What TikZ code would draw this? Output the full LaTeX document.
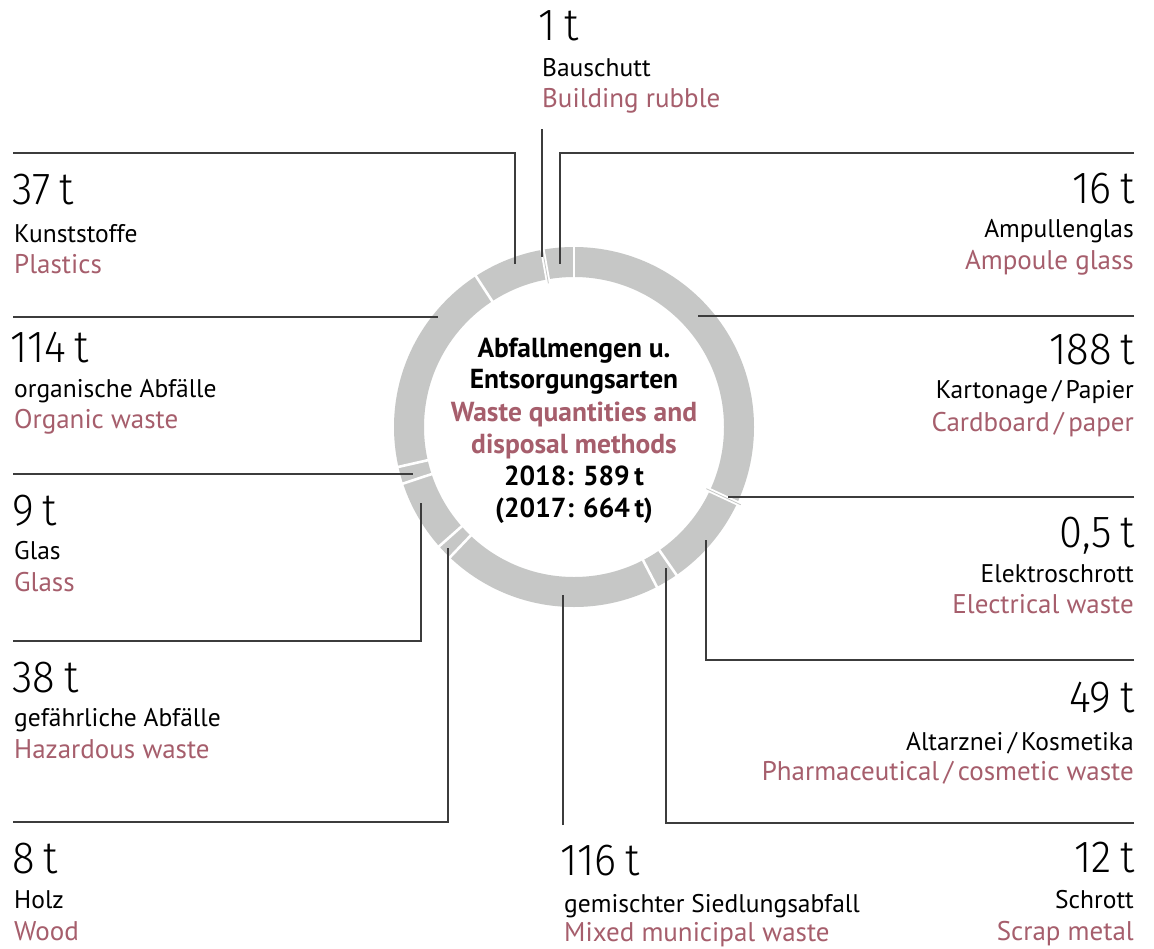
\documentclass[tikz,border=0pt]{standalone}
\usepackage{fontspec}
\setmainfont{PT Sans}
\newfontfamily\numfont{Fira Sans}[UprightFont={* Light}, Numbers=Proportional, FakeStretch=0.93]
\definecolor{rose}{HTML}{A65E6C}
\definecolor{ringgray}{HTML}{C6C7C6}
\definecolor{linegray}{HTML}{3C3C3C}
\tikzset{
  num/.style={inner sep=0pt, text=black, font=\numfont\fontsize{45}{45}\selectfont},
  de/.style={inner sep=0pt, text=black, font=\fontsize{25.5}{25.5}\selectfont},
  en/.style={inner sep=0pt, text=rose, font=\fontsize{27}{27}\selectfont},
  ctr/.style={inner sep=0pt, anchor=base, font=\fontsize{27.5}{27.5}\selectfont\bfseries},
  lft/.style={anchor=base west},
  rgt/.style={anchor=base east},
  conn/.style={draw=linegray, line width=1.1pt},
  gapline/.style={draw=white, line width=2.6pt},
  widegap/.style={draw=white, line width=4.5pt},
  sliver/.style={draw=ringgray, line width=0.8pt},
}
\newcommand{\gapat}[2]{\draw[#1] ([shift={(#2:146pt)}]c) -- ([shift={(#2:184pt)}]c);}
\newcommand{\tn}{\hspace{0.2em}t}
\begin{document}
\begin{tikzpicture}[x=1pt,y=-1pt]
\useasboundingbox[fill=white] (0,0) rectangle (1154,948);
\coordinate (c) at (574,427);
% ring
\fill[ringgray, even odd rule] (c) circle[radius=180pt] (c) circle[radius=150pt];
\foreach \a in {90,-55.3,-62.6,-133.6,-138.5,-161.7,-167.2,-236.97}{\gapat{gapline}{\a}}
\gapat{widegap}{-25.0}
\gapat{sliver}{-25.0}
\gapat{widegap}{-259.9}
\gapat{sliver}{-259.9}

% centre text
\node[ctr] (t1) at (574,357) {Abfallmengen u.};
\node[ctr] (t2) at (574,388) {Entsorgungsarten};
\node[ctr, text=rose] (t3) at (574,421) {Waste quantities and};
\node[ctr, text=rose] (t4) at (574,453) {disposal methods};
\node[ctr] (t5) at (574,485) {2018: 589\,t};
\node[ctr] (t6) at (574,517) {(2017: 664\,t)};

% top: building rubble
\node[num, lft] (rb-n) at (538,40) {1\tn};
\node[de, lft] (rb-d) at (542,76) {Bauschutt};
\node[en, lft] (rb-e) at (542,107) {Building rubble};
\coordinate (rb-a) at (542,129);
\coordinate (rb-b) at (542,257);
\draw[conn] (rb-a) -- (rb-b);

% plastics
\node[num, lft] (pl-n) at (12,204) {37\tn};
\node[de, lft] (pl-d) at (14,242) {Kunststoffe};
\node[en, lft] (pl-e) at (14,273) {Plastics};
\coordinate (pl-a) at (13,153);
\coordinate (pl-b) at (515,264);
\draw[conn] (pl-a) -| (pl-b);

% organic
\node[num, lft] (or-n) at (10,362) {114\tn};
\node[de, lft] (or-d) at (14,397) {organische Abfälle};
\node[en, lft] (or-e) at (14,428) {Organic waste};
\coordinate (or-a) at (13,317);
\coordinate (or-b) at (438,317);
\draw[conn] (or-a) -- (or-b);

% glass
\node[num, lft] (gl-n) at (12,525) {9\tn};
\node[de, lft] (gl-d) at (14,559) {Glas};
\node[en, lft] (gl-e) at (14,591) {Glass};
\coordinate (gl-a) at (13,474);
\coordinate (gl-b) at (413,474);
\draw[conn] (gl-a) -- (gl-b);

% hazardous
\node[num, lft] (hz-n) at (12,692) {38\tn};
\node[de, lft] (hz-d) at (14,726) {gefährliche Abfälle};
\node[en, lft] (hz-e) at (14,758) {Hazardous waste};
\coordinate (hz-a) at (13,641);
\coordinate (hz-b) at (421,503);
\draw[conn] (hz-a) -| (hz-b);

% wood
\node[num, lft] (wd-n) at (12,873) {8\tn};
\node[de, lft] (wd-d) at (14,908) {Holz};
\node[en, lft] (wd-e) at (14,940) {Wood};
\coordinate (wd-a) at (13,822);
\coordinate (wd-b) at (448,548);
\draw[conn] (wd-a) -| (wd-b);

% mixed municipal
\node[num, lft] (mx-n) at (560,875) {116\tn};
\node[de, lft] (mx-d) at (564,912) {gemischter Siedlungsabfall};
\node[en, lft] (mx-e) at (564,941) {Mixed municipal waste};
\coordinate (mx-a) at (563,825);
\coordinate (mx-b) at (563,595);
\draw[conn] (mx-a) -- (mx-b);

% ampoule glass
\node[num, rgt] (am-n) at (1135,203) {16\tn};
\node[de, rgt] (am-d) at (1134,237) {Ampullenglas};
\node[en, rgt] (am-e) at (1134,269) {Ampoule glass};
\coordinate (am-a) at (1134,153);
\coordinate (am-b) at (560,264);
\draw[conn] (am-a) -| (am-b);

% cardboard
\node[num, rgt] (cb-n) at (1135,364) {188\tn};
\node[de, rgt] (cb-d) at (1134,398) {Kartonage\,/\,Papier};
\node[en, rgt] (cb-e) at (1134,431) {Cardboard\,/\,paper};
\coordinate (cb-a) at (1134,316);
\coordinate (cb-b) at (698,316);
\draw[conn] (cb-a) -- (cb-b);

% electrical
\node[num, rgt] (el-n) at (1135,547) {0,5\tn};
\node[de, rgt] (el-d) at (1134,582) {Elektroschrott};
\node[en, rgt] (el-e) at (1134,613) {Electrical waste};
\coordinate (el-a) at (1134,497);
\coordinate (el-b) at (728,497);
\draw[conn] (el-a) -- (el-b);

% pharmaceutical
\node[num, rgt] (ph-n) at (1135,712) {49\tn};
\node[de, rgt] (ph-d) at (1134,750) {Altarznei\,/\,Kosmetika};
\node[en, rgt] (ph-e) at (1134,780) {Pharmaceutical\,/\,cosmetic waste};
\coordinate (ph-a) at (1134,660);
\coordinate (ph-b) at (706,540);
\draw[conn] (ph-a) -| (ph-b);

% scrap
\node[num, rgt] (sc-n) at (1135,872) {12\tn};
\node[de, rgt] (sc-d) at (1134,908) {Schrott};
\node[en, rgt] (sc-e) at (1134,940) {Scrap metal};
\coordinate (sc-a) at (1134,823);
\coordinate (sc-b) at (666,568);
\draw[conn] (sc-a) -| (sc-b);
\end{tikzpicture}
\end{document}
